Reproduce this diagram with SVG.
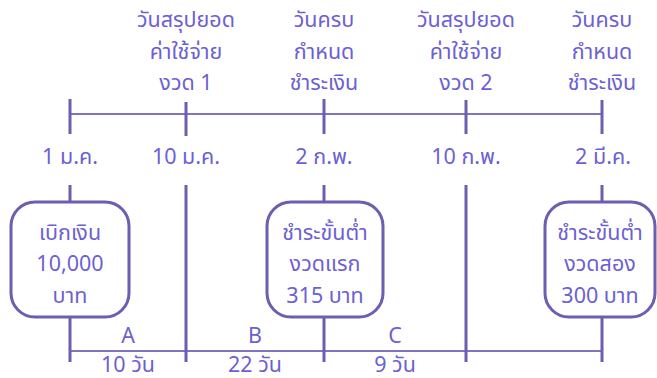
<svg xmlns="http://www.w3.org/2000/svg" width="657" height="378" viewBox="0 0 657 378">
<style>
text{font-family:"Noto Sans Thai","Noto Sans","DejaVu Sans",sans-serif;font-size:21.5px;fill:#6d5fd4;text-anchor:middle;dominant-baseline:central}
.t{stroke:#6a5fb0;stroke-width:3;fill:none}
.h{stroke:#7e74bf;stroke-width:2;fill:none}
.box{fill:#fff;stroke:#6a5fb0;stroke-width:3}
</style>
<rect width="657" height="378" fill="#fff"/>
<g id="connectors">
<line class="h" x1="70" y1="114" x2="602" y2="114"/>
<line class="t" x1="70" y1="99" x2="70" y2="134"/>
<line class="t" x1="186" y1="102" x2="186" y2="136"/>
<line class="t" x1="324" y1="99" x2="324" y2="134"/>
<line class="t" x1="466" y1="100" x2="466" y2="134"/>
<line class="t" x1="602" y1="100" x2="602" y2="134"/>
<line class="h" x1="70" y1="351" x2="602" y2="351"/>
<line class="t" x1="70" y1="185" x2="70" y2="203"/>
<line class="t" x1="70" y1="316" x2="70" y2="362"/>
<line class="t" x1="186" y1="185" x2="186" y2="362"/>
<line class="t" x1="324" y1="185" x2="324" y2="203"/>
<line class="t" x1="324" y1="316" x2="324" y2="362"/>
<line class="t" x1="466" y1="185" x2="466" y2="362"/>
<line class="t" x1="602" y1="185" x2="602" y2="203"/>
<line class="t" x1="602" y1="316" x2="602" y2="362"/>
</g>
<g id="top-labels">
<text x="186" y="20">วันสรุปยอด</text>
<text x="186" y="52">ค่าใช้จ่าย</text>
<text x="186" y="83">งวด 1</text>
<text x="324" y="20">วันครบ</text>
<text x="324" y="52">กำหนด</text>
<text x="324" y="83">ชำระเงิน</text>
<text x="466" y="20">วันสรุปยอด</text>
<text x="466" y="52">ค่าใช้จ่าย</text>
<text x="466" y="83">งวด 2</text>
<text x="602" y="20">วันครบ</text>
<text x="602" y="52">กำหนด</text>
<text x="602" y="83">ชำระเงิน</text>
</g>
<g id="dates">
<text x="70" y="157">1 ม.ค.</text>
<text x="186" y="157">10 ม.ค.</text>
<text x="324" y="157">2 ก.พ.</text>
<text x="466" y="157">10 ก.พ.</text>
<text x="603" y="157">2 มี.ค.</text>
</g>
<g id="node1">
<rect class="box" x="11" y="202" width="118" height="115" rx="24"/>
<text x="70" y="233">เบิกเงิน</text>
<text x="70" y="264">10,000</text>
<text x="70" y="296">บาท</text>
</g>
<g id="node2">
<rect class="box" x="267" y="202" width="116" height="115" rx="24"/>
<text x="325" y="233">ชำระขั้นต่ำ</text>
<text x="325" y="264">งวดแรก</text>
<text x="325" y="296">315 บาท</text>
</g>
<g id="node3">
<rect class="box" x="545" y="202" width="110" height="115" rx="24"/>
<text x="600" y="233">ชำระขั้นต่ำ</text>
<text x="600" y="264">งวดสอง</text>
<text x="600" y="296">300 บาท</text>
</g>
<g id="intervals">
<text x="128" y="336">A</text>
<text x="255" y="336">B</text>
<text x="395" y="336">C</text>
<text x="128" y="365">10 วัน</text>
<text x="255" y="365">22 วัน</text>
<text x="395" y="365">9 วัน</text>
</g>
</svg>
